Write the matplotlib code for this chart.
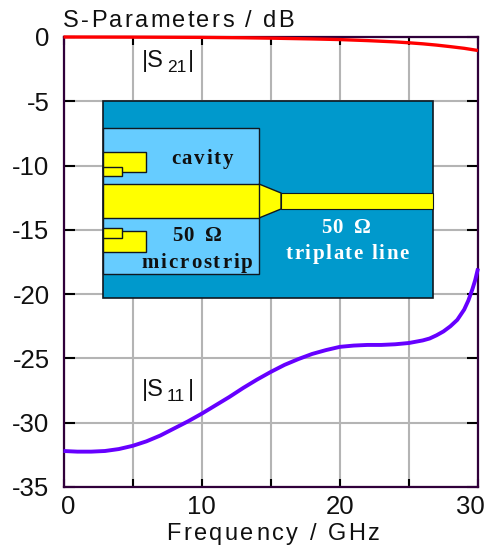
import matplotlib
matplotlib.use("Agg")
import matplotlib.pyplot as plt
from matplotlib.patches import Polygon, Rectangle
from matplotlib.transforms import ScaledTranslation

plt.rcParams['font.family'] = ['Liberation Sans', 'DejaVu Sans']
plt.rcParams['axes.unicode_minus'] = False

W, H = 486, 547

# measured curves
freq_s21 = [0, 5, 10, 13, 15, 18, 20, 22, 24, 25, 26, 27, 28, 29, 30]
s21 = [0, -0.01, -0.03, -0.06, -0.09, -0.15, -0.2, -0.28, -0.38, -0.45, -0.53, -0.63, -0.75, -0.88, -1.05]

freq_s11 = [0, 1, 2, 3, 4, 5, 6, 7, 8, 9, 10, 11, 12, 13, 14, 15, 16, 17, 18, 19, 20, 21, 22, 23, 24,
            25, 26, 26.5, 27, 27.5, 28, 28.5, 29, 29.3, 29.6, 29.8, 30]
s11 = [-32.2, -32.25, -32.25, -32.2, -32.05, -31.8, -31.45, -31.0, -30.45, -29.9, -29.3, -28.65, -28.0,
       -27.3, -26.65, -26.05, -25.5, -25.05, -24.65, -24.35, -24.1, -24.0, -23.95, -23.95, -23.9,
       -23.8, -23.6, -23.45, -23.2, -22.9, -22.5, -22.0, -21.2, -20.5, -19.6, -18.9, -18.0]

x_ticks = [0, 5, 10, 15, 20, 25, 30]
x_labels = ['0', '', '10', '', '20', '', '30']
y_ticks = [0, -5, -10, -15, -20, -25, -30, -35]

fig = plt.figure(figsize=(W / 100, H / 100), dpi=100, facecolor='white')
ax = fig.add_axes([63.5 / W, 1 - 487 / H, (478 - 63.5) / W, (487 - 37) / H])
ax.set_xlim(0, 30)
ax.set_ylim(-35, 0)
ax.set_xticks(x_ticks)
ax.set_xticklabels(x_labels)
ax.set_yticks(y_ticks)
ax.grid(True, color='#b4b4b4', lw=1.5)
ax.set_axisbelow(True)
ax.tick_params(direction='in', width=1.5, top=True, right=True, labelsize=18.5, color='black', labelcolor='#101010')
ax.tick_params(axis='x', length=6, pad=6)
ax.tick_params(axis='y', length=8, pad=10)
for side in ax.spines:
    ax.spines[side].set_color('#30003a')
    ax.spines[side].set_linewidth(1.6)

# the end labels sit inside the tick position in the original
labels = ax.get_xticklabels()
labels[0].set_transform(labels[0].get_transform() + ScaledTranslation(5 / 100, 0, fig.dpi_scale_trans))
labels[-1].set_transform(labels[-1].get_transform() + ScaledTranslation(-8 / 100, 0, fig.dpi_scale_trans))

ax.plot(freq_s21, s21, color='#ff0000', lw=2.4, clip_on=False, zorder=5, solid_capstyle='butt')
ax.plot(freq_s11, s11, color='#6600ff', lw=2.8, clip_on=False, zorder=5, solid_capstyle='butt')

# overlay in pixel coordinates for the inset sketch and the text
ov = fig.add_axes([0, 0, 1, 1], facecolor='none')
ov.set_xlim(0, W)
ov.set_ylim(H, 0)
ov.axis('off')


def box(x0, y0, x1, y1, color, lw=1.0, z=6):
    ov.add_patch(Rectangle((x0, y0), x1 - x0, y1 - y0, fc=color, ec='#101820', lw=lw, zorder=z))


def spaced(s, x, y, gap, center=False, **kw):
    # matplotlib has no letter spacing, so place the letters one by one
    r = fig.canvas.get_renderer()
    widths = []
    for i in range(len(s)):
        t = ov.text(0, 0, s[:i + 1] + '|', **kw)
        bar = ov.text(0, 0, '|', **kw)
        widths.append(t.get_window_extent(r).width - bar.get_window_extent(r).width)
        t.remove()
        bar.remove()
    total = widths[-1] + gap * (len(s) - 1)
    start = x - total / 2 if center else x
    for i, ch in enumerate(s):
        prev = widths[i - 1] if i else 0
        ov.text(start + prev + gap * i, y, ch, ha='left', va='baseline', zorder=8, **kw)


box(102.5, 101, 433, 297.5, '#0099cc', 1.2)
box(102.5, 127.5, 259, 274, '#66ccff', 1.0, 7)
box(102.5, 151.5, 145.5, 172, '#ffff00', 1.0, 7)
box(102.5, 167, 122, 176, '#ffff00', 1.0, 7)
box(102.5, 231, 145.5, 252, '#ffff00', 1.0, 7)
box(102.5, 228, 122, 238, '#ffff00', 1.0, 7)
box(281, 193, 433, 209, '#ffff00', 0.8, 7)
ov.add_patch(Polygon([(259, 184), (281, 193), (281, 209), (259, 218)], fc='#ffff00', ec='#101820', lw=1.0, zorder=7))
box(102.5, 184, 259, 218, '#ffff00', 1.0, 7)

serif = dict(family=['Liberation Serif', 'DejaVu Serif'], fontweight='bold', fontsize=15)
spaced('cavity', 202, 164, 1.8, center=True, color='#101010', **serif)
spaced('50  \u03a9', 197, 241, 0.2, center=True, color='#101010', **serif)
spaced('microstrip', 197, 268, 2.0, center=True, color='#101010', **serif)
spaced('50  \u03a9', 346, 233, 0.2, center=True, color='white', **serif)
spaced('triplate line', 347, 259, 1.6, center=True, color='white', **serif)

sans = dict(fontsize=17, color='#101010')
spaced('S-Parameters / dB', 63, 27, 2.3, **sans)
spaced('Frequency / GHz', 273, 540, 2.5, center=True, **sans)

for sub, x0, y0 in [('21', 142, 67), ('11', 142, 396)]:
    ov.text(x0, y0, '|S', ha='left', va='baseline', zorder=8, **sans)
    ov.text(x0 + 25, y0 + 5, sub, ha='left', va='baseline', zorder=8, fontsize=12.5, color='#101010')
    ov.text(x0 + 46, y0, '|', ha='left', va='baseline', zorder=8, **sans)

fig.savefig('out.png', dpi=100)
